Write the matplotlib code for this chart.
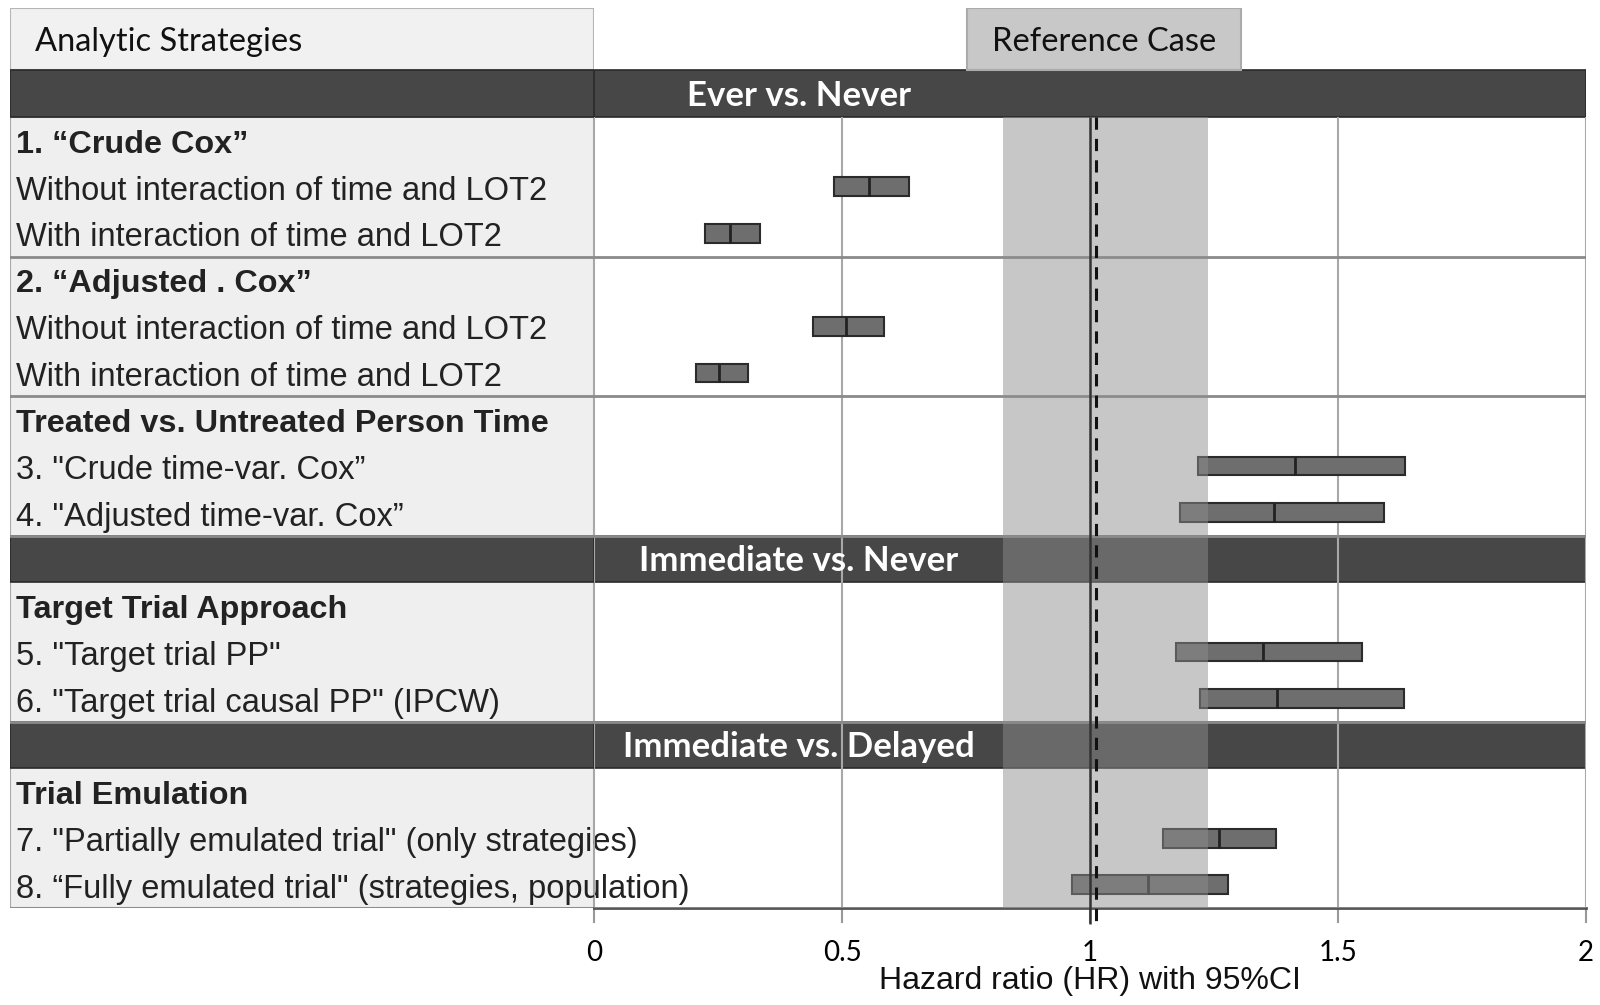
import matplotlib
matplotlib.use("Agg")
import matplotlib.pyplot as plt
from matplotlib.patches import Rectangle
from matplotlib.transforms import blended_transform_factory
import numpy as np

# Gruppen und Zeilen (von oben nach unten)
bands = ["Ever vs. Never", "Immediate vs. Never", "Immediate vs. Delayed"]
group_titles = ["1. \u201cCrude Cox\u201d",
                "2. \u201cAdjusted . Cox\u201d",
                "Treated vs. Untreated Person Time",
                "Target Trial Approach",
                "Trial Emulation"]
row_labels = [
    ["Without interaction of time and LOT2", "With interaction of time and LOT2"],
    ["Without interaction of time and LOT2", "With interaction of time and LOT2"],
    ['3. "Crude time-var. Cox\u201d', '4. "Adjusted time-var. Cox\u201d'],
    ['5. "Target trial PP"', '6. "Target trial causal PP" (IPCW)'],
    ['7. "Partially emulated trial" (only strategies)',
     '8. \u201cFully emulated trial" (strategies, population)'],
]
# welche Bande vor welcher Gruppe steht
band_before_group = {0: 0, 3: 1, 4: 2}

# HR mit 95%CI, zwei Zeilen pro Gruppe
hr_lo = [0.483, 0.223, 0.441, 0.206, 1.218, 1.181, 1.174, 1.222, 1.148, 0.963]
hr_est = [0.554, 0.274, 0.508, 0.253, 1.413, 1.371, 1.348, 1.377, 1.261, 1.117]
hr_hi = [0.636, 0.334, 0.585, 0.311, 1.636, 1.593, 1.548, 1.634, 1.375, 1.279]
ref_lo, ref_hi = 0.825, 1.237
ref_est = 1.012

xticks = [0, 0.5, 1, 1.5, 2]
xtick_labels = ["0", "0.5", "1", "1.5", "2"]

# Layout in Zeileneinheiten
y = 0.0
band_y = []
group_span = []
row_y = []
for g in range(len(group_titles)):
    if g in band_before_group:
        band_y.append(y)
        y += 1
    group_span.append((y, y + 3))
    row_y.append([y + 1.5, y + 2.5])
    y += 3
y_bottom = y
y_top = -1.34

W, H = 1600, 1005
fig = plt.figure(figsize=(W / 100, H / 100), dpi=100)
ax_l = fig.add_axes([10 / W, 97 / H, 584 / W, 900 / H])
ax = fig.add_axes([594 / W, 97 / H, 992 / W, 900 / H])

dark = "#474747"
sans = "Liberation Sans"
cal = "Lato"

for a in (ax_l, ax):
    a.set_ylim(y_bottom, y_top)
    a.patch.set_alpha(0)

# linke Tabelle
ax_l.set_xlim(0, 1)
ax_l.axis("off")
ax_l.add_patch(Rectangle((0, y_top), 1, -y_top, facecolor="#f1f1f1",
                         edgecolor="#b5b5b5", lw=1.5, zorder=1))
ax_l.text(0.042, y_top / 2 + 0.05, "Analytic Strategies", fontsize=23.5,
          family=cal, va="center", ha="left", color="#111")
ax_l.add_patch(Rectangle((0, 1), 1, y_bottom - 1, facecolor="#efefef",
                         edgecolor="#a8a8a8", lw=1.5, zorder=0))
for g, title in enumerate(group_titles):
    y0, y1 = group_span[g]
    ax_l.text(0.01, y0 + 0.5 + 0.1, title, fontsize=23.3, family=sans,
              weight="bold", va="center", color="#222", clip_on=False, zorder=6)
    for lab, yy in zip(row_labels[g], row_y[g]):
        ax_l.text(0.01, yy + 0.1, lab, fontsize=23.5, family=sans,
                  va="center", color="#222", clip_on=False, zorder=6)
    for a in (ax_l, ax):
        a.axhline(y1, color="#8a8a8a", lw=2, zorder=3)

# dunkle Banden
trans = blended_transform_factory(fig.transFigure, ax.transData)
for b, yb in zip(bands, band_y):
    ax_l.barh(yb + 0.5, 1, left=0, height=1, color=dark,
              edgecolor="#2a2a2a", lw=1.2, zorder=1)
    ax.barh(yb + 0.5, 2, left=0, height=1, color=dark,
            edgecolor="#2a2a2a", lw=1.2, zorder=1)
    ax.text(0.4994, yb + 0.55, b, transform=trans, fontsize=25, family=cal,
            weight="bold", color="white", ha="center", va="center", zorder=8)

# Plotbereich
ax.set_xlim(0, 2)
for s in ("top", "right", "left"):
    ax.spines[s].set_visible(False)
ax.spines["bottom"].set_color("#555")
ax.spines["bottom"].set_linewidth(2)
ax.set_yticks([])
ax.set_xticks(xticks)
ax.set_xticklabels(xtick_labels, fontsize=20, family=cal)
ax.tick_params(axis="x", length=11, width=1.5, color="#999", pad=12)
ax.vlines([0, 0.5, 1.5, 2], 1, y_bottom, color="#a8a8a8", lw=1.5, zorder=2)
ax.set_xlabel("Hazard ratio (HR) with 95%CI", fontsize=23, family=sans,
              labelpad=0, color="#111")

# Referenzfall
ax.add_patch(Rectangle((0.753, y_top), 0.552, -y_top, facecolor="#c8c8c8",
                       edgecolor="#ababab", lw=1.5, zorder=1))
ax.text(1.029, y_top / 2 + 0.05, "Reference Case", fontsize=23.5, family=cal,
        ha="center", va="center", color="#111")

# Balken
rows_all = []
for g in range(len(group_titles)):
    rows_all += row_y[g]
rows_all = np.array(rows_all)
lo = np.array(hr_lo)
hi = np.array(hr_hi)
est = np.array(hr_est)
ax.barh(rows_all, hi - lo, left=lo, height=0.4, color="#6e6e6e",
        edgecolor="#2b2b2b", lw=1.5, zorder=4)
ax.vlines(est, rows_all - 0.2, rows_all + 0.2, color="#222", lw=2, zorder=5)

# Referenzband und Linien bei 1
ax.fill_betweenx([1, y_bottom], ref_lo, ref_hi, color="#8e8e8e", alpha=0.49,
                 lw=0, zorder=6)
ax.vlines(1, 1, y_bottom + 0.35, color="#333", lw=1.8, zorder=7, clip_on=False)
ax.vlines(ref_est, 1, y_bottom + 0.35, color="#111", lw=2.2,
          linestyles=(0, (4, 3)), zorder=7, clip_on=False)

fig.savefig("out.png", dpi=100)
